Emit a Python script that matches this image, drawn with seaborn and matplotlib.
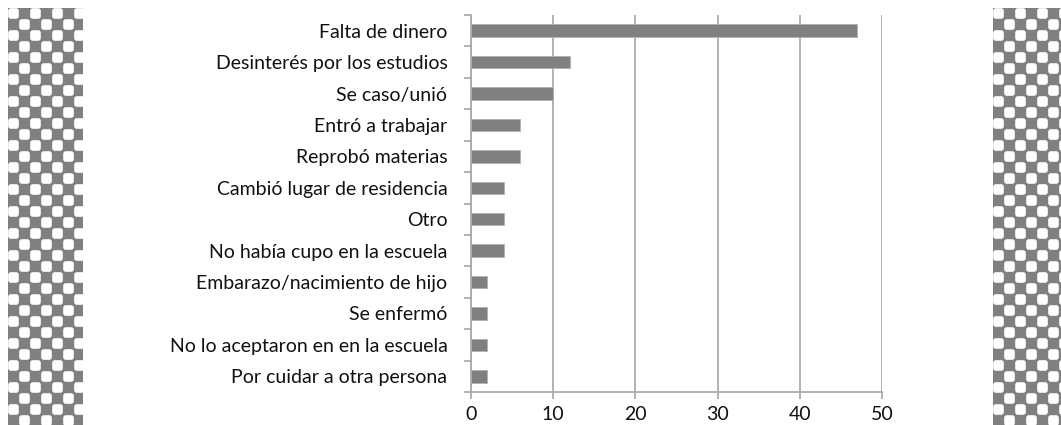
import numpy as np
import pandas as pd
import matplotlib
matplotlib.use("Agg")
import matplotlib.pyplot as plt
import seaborn as sns

# Datos
causas = [
    "Falta de dinero",
    "Desinterés por los estudios",
    "Se caso/unió",
    "Entró a trabajar",
    "Reprobó materias",
    "Cambió lugar de residencia",
    "Otro",
    "No había cupo en la escuela",
    "Embarazo/nacimiento de hijo",
    "Se enfermó",
    "No lo aceptaron en en la escuela",
    "Por cuidar a otra persona",
]
porcentajes = [47, 12, 10, 6, 6, 4, 4, 4, 2, 2, 2, 2]
ticks_x = [0, 10, 20, 30, 40, 50]


def tablero(ancho, alto, cell=11):
    # cuadros blancos redondeados sobre gris, a nivel de pixel
    yy, xx = np.mgrid[0:alto, 0:ancho]
    cx, cy = xx // cell, yy // cell
    blanco = (cx + cy) % 2 == 0
    fx = (xx % cell) - (cell - 1) / 2
    fy = (yy % cell) - (cell - 1) / 2
    r = 2.5
    half = (cell - 1) / 2
    dx = np.clip(np.abs(fx) - (half - r), 0, None)
    dy = np.clip(np.abs(fy) - (half - r), 0, None)
    d = np.hypot(dx, dy)
    # borde suave
    a = np.clip(r + 0.8 - d, 0, 1)
    img = np.where(blanco, 0.5 + 0.5 * a, 0.5)
    return img


def main():
    df = pd.DataFrame({"causa": causas, "valor": porcentajes})

    sns.set_style("white")
    plt.rcParams["font.family"] = ["Lato", "DejaVu Sans"]

    W, H = 1061, 425
    fig = plt.figure(figsize=(W / 100, H / 100), dpi=100)

    # tiras decorativas de cuadros a los lados
    for x0, x1 in [(8, 83), (993, 1061)]:
        img = tablero(x1 - x0, H - 8)
        axc = fig.add_axes([x0 / W, 0, (x1 - x0) / W, (H - 8) / H])
        axc.imshow(img, cmap="gray", vmin=0, vmax=1, interpolation="nearest", aspect="auto")
        axc.axis("off")

    ax = fig.add_axes([471 / W, 1 - 392 / H, (882 - 471) / W, (392 - 15) / H])
    sns.barplot(data=df, x="valor", y="causa", orient="h", width=0.4,
                color="#808080", edgecolor="#b0b0b0", linewidth=0.6,
                saturation=1, ax=ax, zorder=3)

    ax.set_xlim(0, 50)
    ax.set_ylim(len(causas) - 0.5, -0.5)
    ax.set_xticks(ticks_x)
    ax.set_xlabel("")
    ax.set_ylabel("")
    ax.grid(axis="x", color="#a6a6a6", linewidth=1.2, zorder=0)
    ax.grid(axis="y", visible=False)

    for s in ["top", "right"]:
        ax.spines[s].set_visible(False)
    for s in ["left", "bottom"]:
        ax.spines[s].set_color("#a6a6a6")
        ax.spines[s].set_linewidth(1.2)

    # marcas del eje y entre categorias
    ax.set_yticks(np.arange(len(causas)))
    ax.set_yticks(np.arange(len(causas) + 1) - 0.5, minor=True)
    ax.tick_params(axis="y", which="major", length=0, pad=17, labelsize=14, labelcolor="#111111")
    ax.tick_params(axis="y", which="minor", length=5, color="#a6a6a6", width=1.2, direction="out", left=True)
    ax.tick_params(axis="x", length=5, color="#a6a6a6", width=1.2, direction="out", bottom=True,
                   labelsize=14, labelcolor="#111111", pad=5)

    fig.savefig("out.png", dpi=100)
    plt.close(fig)


if __name__ == "__main__":
    main()
